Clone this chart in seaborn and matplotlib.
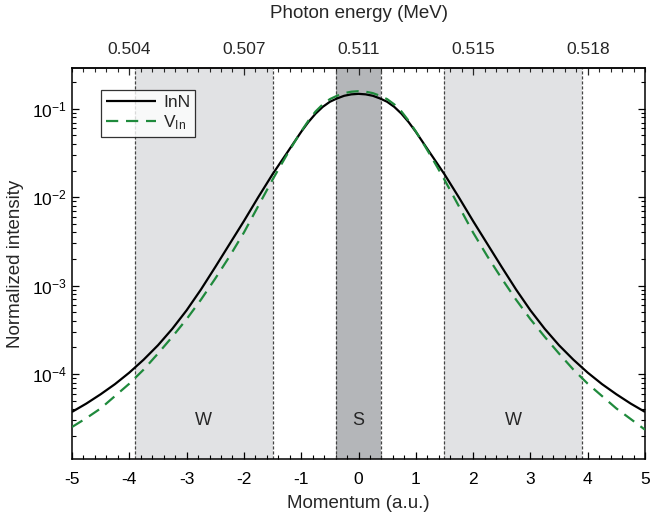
import numpy as np
import pandas as pd
import matplotlib
matplotlib.use("Agg")
import matplotlib.pyplot as plt
import seaborn as sns
from matplotlib.ticker import MultipleLocator, FixedLocator, LogLocator, NullFormatter

# ---------------- data ----------------
momentum = [-5.0, -4.75, -4.5, -4.25, -4.0, -3.75, -3.5, -3.25, -3.0, -2.75, -2.5,
            -2.25, -2.0, -1.75, -1.5, -1.375, -1.25, -1.125, -1.0, -0.875, -0.75,
            -0.625, -0.5, -0.375, -0.25, -0.125, 0.0,
            0.125, 0.25, 0.375, 0.5, 0.625, 0.75, 0.875, 1.0, 1.125, 1.25,
            1.375, 1.5, 1.75, 2.0, 2.25, 2.5, 2.75, 3.0, 3.25, 3.5,
            3.75, 4.0, 4.25, 4.5, 4.75, 5.0]

inn = [3.72e-5, 4.62e-5, 5.89e-5, 7.67e-5, 1.035e-4, 1.45e-4, 2.11e-4, 3.24e-4, 5.25e-4, 9.02e-4, 1.62e-3,
       2.95e-3, 5.37e-3, 1.00e-2, 1.82e-2, 2.40e-2, 3.16e-2, 4.17e-2, 5.50e-2, 7.08e-2, 8.81e-2,
       0.1052, 0.1202, 0.1312, 0.1406, 0.1459, 0.1479,
       0.1459, 0.1406, 0.1312, 0.1202, 0.1052, 8.81e-2, 7.08e-2, 5.50e-2, 4.17e-2, 3.16e-2,
       2.40e-2, 1.82e-2, 1.00e-2, 5.37e-3, 2.95e-3, 1.62e-3, 9.02e-4, 5.25e-4, 3.24e-4, 2.11e-4,
       1.45e-4, 1.035e-4, 7.67e-5, 5.89e-5, 4.62e-5, 3.72e-5]

v_in = [2.51e-5, 3.16e-5, 4.07e-5, 5.62e-5, 7.76e-5, 1.12e-4, 1.70e-4, 2.63e-4, 4.17e-4, 6.92e-4, 1.20e-3,
        2.14e-3, 3.98e-3, 7.94e-3, 1.58e-2, 2.19e-2, 3.02e-2, 4.12e-2, 5.56e-2, 7.33e-2, 9.33e-2,
        0.1122, 0.1288, 0.1406, 0.1507, 0.1563, 0.1585,
        0.1563, 0.1507, 0.1406, 0.1288, 0.1122, 9.33e-2, 7.33e-2, 5.56e-2, 4.12e-2, 3.02e-2,
        2.19e-2, 1.58e-2, 7.94e-3, 3.98e-3, 2.14e-3, 1.20e-3, 6.92e-4, 4.17e-4, 2.63e-4, 1.70e-4,
        1.12e-4, 7.76e-5, 5.62e-5, 4.07e-5, 3.09e-5, 2.34e-5]

wide_windows = [(-3.9, -1.5), (1.5, 3.9)]
sharp_window = (-0.4, 0.4)
region_labels = ["W", "S", "W"]
region_label_x = [-2.7, 0.0, 2.7]
region_label_y = 3.0e-5

top_tick_pos = [-4, -2, 0, 2, 4]
top_tick_labels = ["0.504", "0.507", "0.511", "0.515", "0.518"]

series_names = ["InN", "V$_{\\mathregular{In}}$"]

# ---------------- style ----------------
sns.set_style("ticks")
plt.rcParams["font.family"] = ["Liberation Sans", "DejaVu Sans"]
plt.rcParams["mathtext.fontset"] = "custom"
plt.rcParams["mathtext.rm"] = "Liberation Sans"
plt.rcParams["mathtext.it"] = "Liberation Sans"
plt.rcParams["mathtext.default"] = "regular"
plt.rcParams["axes.unicode_minus"] = False

fig = plt.figure(figsize=(6.52, 5.19), dpi=100)
ax = fig.add_axes([72/652, 1-459/519, (645-72)/652, (459-68)/519])

# shaded windows
for lo, hi in wide_windows:
    ax.axvspan(lo, hi, facecolor="#e1e2e4", edgecolor="none", zorder=0)
ax.axvspan(sharp_window[0], sharp_window[1], facecolor="#b4b6b9", edgecolor="none", zorder=0)
for lo, hi in wide_windows + [sharp_window]:
    for xv in (lo, hi):
        ax.axvline(xv, color="#444444", lw=0.9, ls=(0, (2.5, 1.5)), zorder=1)

df = pd.DataFrame({
    "momentum": momentum * 2,
    "intensity": inn + v_in,
    "series": [series_names[0]] * len(inn) + [series_names[1]] * len(v_in),
})

sns.lineplot(data=df, x="momentum", y="intensity", hue="series", style="series",
             palette=["black", "#1f8a3c"], dashes=[(1, 0), (5.5, 3.5)],
             linewidth=1.6, ax=ax, zorder=3)

ax.set_yscale("log")
ax.set_xlim(-5, 5)
ax.set_ylim(1.09e-5, 0.29)

ax.xaxis.set_major_locator(MultipleLocator(1))
ax.xaxis.set_minor_locator(MultipleLocator(0.2))
ax.yaxis.set_major_locator(LogLocator(base=10, numticks=10))
ax.yaxis.set_minor_locator(LogLocator(base=10, subs=np.arange(2, 10), numticks=20))
ax.yaxis.set_minor_formatter(NullFormatter())

ax.tick_params(which="both", direction="in", top=False, right=True, labelsize=12.5, colors="black")
ax.tick_params(which="major", length=5, width=0.9)
ax.tick_params(which="minor", length=2.8, width=0.8)
ax.tick_params(axis="x", pad=9)

for s in ax.spines.values():
    s.set_linewidth(1.1)
    s.set_color("black")

ax.set_xlabel("Momentum (a.u.)", fontsize=13.5, labelpad=6)
ax.set_ylabel("Normalized intensity", fontsize=13.5, labelpad=6)

# top axis
top = ax.secondary_xaxis("top")
top.xaxis.set_major_locator(FixedLocator(top_tick_pos))
top.set_xticklabels(top_tick_labels)
top.xaxis.set_minor_locator(MultipleLocator(0.2))
top.tick_params(which="both", direction="in", labelsize=12.5, pad=8)
top.tick_params(which="major", length=5, width=0.9)
top.tick_params(which="minor", length=2.8, width=0.8)
top.spines["top"].set_linewidth(1.1)
top.set_xlabel("Photon energy (MeV)", fontsize=13.5, labelpad=17)

for lx, lab in zip(region_label_x, region_labels):
    ax.text(lx, region_label_y, lab, ha="center", va="center", fontsize=13, zorder=4)

leg = ax.legend(loc="upper left", bbox_to_anchor=(0.05, 0.945), borderaxespad=0,
                fontsize=12.5, frameon=True, fancybox=False, handlelength=2.9,
                handletextpad=0.4, borderpad=0.3, labelspacing=0.2)
leg.get_frame().set_edgecolor("black")
leg.get_frame().set_linewidth(0.9)
leg.set_title(None)

fig.savefig("out.png", dpi=100)
